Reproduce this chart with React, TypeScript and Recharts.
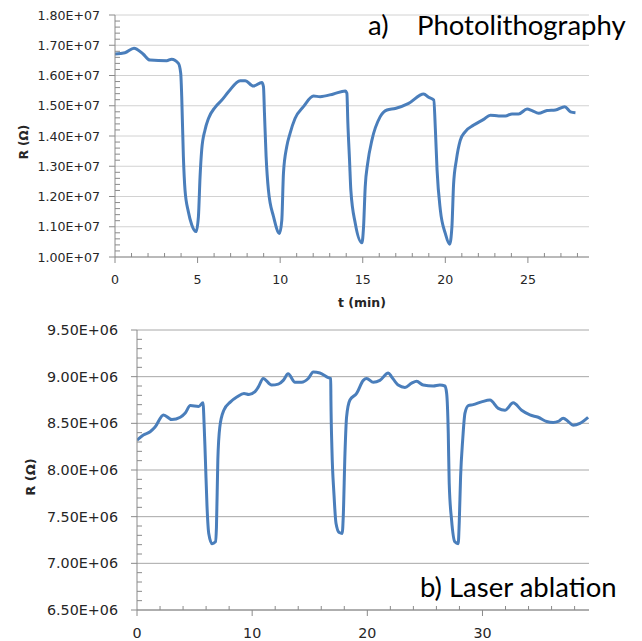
import React from 'react';
import { LineChart, Line, XAxis, YAxis, ReferenceLine } from 'recharts';

// ---------- a) Photolithography ----------
const topTime = [
  0.0, 0.6, 1.15, 1.7, 2.12, 3.13, 3.43, 3.84, 3.98, 4.04, 4.14, 4.24, 4.44, 4.65, 4.91,
  5.05, 5.15, 5.25, 5.45, 5.66, 6.06, 6.47, 6.87, 7.58, 7.88, 8.38, 8.89, 8.99, 9.05, 9.15,
  9.29, 9.6, 9.96, 10.1, 10.2, 10.4, 10.6, 10.9, 11.41, 12.02, 12.42, 13.23, 13.94, 14.04,
  14.1, 14.2, 14.28, 14.55, 14.95, 15.05, 15.15, 15.3, 15.56, 16.06, 16.47, 16.97, 17.78,
  18.69, 18.99, 19.3, 19.4, 19.5, 19.7, 20.0, 20.26, 20.4, 20.5, 20.67, 20.9, 21.2, 21.72,
  22.32, 22.73, 23.23, 23.64, 24.04, 24.44, 24.95, 25.25, 25.65, 26.16, 26.67, 27.23, 27.58,
  27.88,
];
const topResistance = [
  16.71e6, 16.75e6, 16.9e6, 16.71e6, 16.51e6, 16.49e6, 16.54e6, 16.4e6, 16.07e6, 15.3e6,
  13.32e6, 12.21e6, 11.5e6, 11.06e6, 10.84e6, 11.33e6, 12.65e6, 13.54e6, 14.2e6, 14.58e6,
  14.95e6, 15.19e6, 15.46e6, 15.83e6, 15.83e6, 15.65e6, 15.77e6, 15.63e6, 14.75e6, 13.32e6,
  12.21e6, 11.33e6, 10.78e6, 11.22e6, 12.77e6, 13.65e6, 14.09e6, 14.58e6, 14.97e6, 15.32e6,
  15.3e6, 15.39e6, 15.49e6, 15.41e6, 14.42e6, 13.21e6, 12.21e6, 11.11e6, 10.47e6, 11.0e6,
  12.32e6, 13.1e6, 13.87e6, 14.64e6, 14.86e6, 14.91e6, 15.08e6, 15.39e6, 15.28e6, 15.19e6,
  14.2e6, 12.88e6, 11.55e6, 10.78e6, 10.42e6, 11.0e6, 12.4e6, 13.21e6, 13.85e6, 14.14e6,
  14.36e6, 14.55e6, 14.69e6, 14.66e6, 14.66e6, 14.73e6, 14.73e6, 14.89e6, 14.84e6, 14.75e6,
  14.84e6, 14.86e6, 14.97e6, 14.8e6, 14.77e6,
];
const topXMajor = [0, 5, 10, 15, 20, 25];
const topYMajor = [1.0e7, 1.1e7, 1.2e7, 1.3e7, 1.4e7, 1.5e7, 1.6e7, 1.7e7, 1.8e7];
const topXMax = 28.7;

// ---------- b) Laser ablation ----------
const botTime = [
  0, 0.55, 1.14, 1.57, 2.3, 3.03, 3.76, 4.19, 4.63, 5.35, 5.74, 5.79, 5.94, 6.08, 6.23,
  6.52, 6.81, 6.9, 7.02, 7.19, 7.54, 8.12, 8.7, 9.29, 9.72, 10.25, 10.54, 10.96, 11.69,
  12.27, 12.7, 13.12, 13.72, 14.29, 14.87, 15.31, 15.88, 16.61, 16.82, 16.84, 16.93, 17.1,
  17.28, 17.56, 17.82, 17.91, 18.06, 18.2, 18.49, 19.07, 19.65, 19.94, 20.52, 21.09, 21.82,
  22.1, 22.68, 23.27, 23.85, 24.28, 24.85, 25.72, 26.3, 26.74, 26.89, 27.03, 27.11, 27.32,
  27.6, 27.89, 27.98, 28.1, 28.28, 28.48, 28.77, 29.19, 29.92, 30.65, 31.37, 31.95, 32.67,
  33.4, 34.12, 34.84, 35.57, 36.14, 36.58, 37.01, 37.44, 37.87, 38.46, 39.17,
];
const botResistance = [
  8.32e6, 8.375e6, 8.41e6, 8.46e6, 8.59e6, 8.54e6, 8.565e6, 8.61e6, 8.69e6, 8.68e6, 8.72e6,
  8.61e6, 8.11e6, 7.61e6, 7.32e6, 7.21e6, 7.23e6, 7.39e6, 8.11e6, 8.46e6, 8.64e6, 8.73e6,
  8.785e6, 8.82e6, 8.81e6, 8.84e6, 8.89e6, 8.98e6, 8.91e6, 8.92e6, 8.96e6, 9.03e6, 8.94e6,
  8.94e6, 8.98e6, 9.05e6, 9.04e6, 8.99e6, 8.98e6, 8.75e6, 8.21e6, 7.75e6, 7.43e6, 7.33e6,
  7.32e6, 7.5e6, 8.18e6, 8.57e6, 8.75e6, 8.82e6, 8.96e6, 8.98e6, 8.94e6, 8.96e6, 9.04e6,
  9.0e6, 8.91e6, 8.885e6, 8.93e6, 8.95e6, 8.91e6, 8.9e6, 8.91e6, 8.9e6, 8.82e6, 8.39e6,
  7.86e6, 7.46e6, 7.23e6, 7.21e6, 7.43e6, 7.93e6, 8.32e6, 8.61e6, 8.69e6, 8.7e6, 8.73e6,
  8.75e6, 8.66e6, 8.64e6, 8.72e6, 8.64e6, 8.59e6, 8.565e6, 8.52e6, 8.51e6, 8.52e6, 8.555e6,
  8.52e6, 8.48e6, 8.5e6, 8.565e6,
];
const botXMajor = [0, 10, 20, 30];
const botYMajor = [6.5e6, 7.0e6, 7.5e6, 8.0e6, 8.5e6, 9.0e6, 9.5e6];
const botXMax = 39.25;

// ---------- styling ----------
const LINE_COLOR = '#4a7ebb';
const AXIS_COLOR = '#8a8a8a';
const TOP_GRID = '#d2d2d2';
const BOT_GRID = '#a8a8a8';
const TEXT_COLOR = '#262626';
const TITLE_FONT = 'Lato, "Open Sans", sans-serif';
const TICK_FONT = '"DejaVu Sans", sans-serif';

const topData = topTime.map((t, i) => ({ t, r: topResistance[i] }));
const botData = botTime.map((t, i) => ({ t, r: botResistance[i] }));

function withMinor(start: number, end: number, step: number): number[] {
  const out: number[] = [];
  const n = Math.round((end - start) / step);
  for (let i = 0; i <= n; i++) out.push(+(start + i * step).toPrecision(10));
  return out;
}

function sci(v: number): string {
  const [m, e] = v.toExponential(2).split('e');
  const sign = e[0] === '-' ? '-' : '+';
  const digits = e.replace(/[+-]/, '').padStart(2, '0');
  return `${m}E${sign}${digits}`;
}

const isIn = (arr: number[], v: number) => arr.some((m) => Math.abs(m - v) < Math.abs(m) * 1e-6 + 1e-6);

function makeYTick(majors: number[], fontSize: number, gap: number) {
  return (props: any) => {
    const { x, y, payload } = props;
    if (isIn(majors, payload.value)) {
      return (
        <g>
          <line x1={x - 6} x2={x} y1={y} y2={y} stroke={AXIS_COLOR} />
          <text x={x - gap} y={y} dy="0.36em" textAnchor="end" fontSize={fontSize} fill={TEXT_COLOR} fontFamily={TICK_FONT}>
            {sci(payload.value)}
          </text>
        </g>
      );
    }
    return <line x1={x} x2={x + 5} y1={y} y2={y} stroke={AXIS_COLOR} />;
  };
}

function makeXTick(majors: number[], fontSize: number, offset: number) {
  return (props: any) => {
    const { x, y, payload } = props;
    if (isIn(majors, payload.value)) {
      return (
        <g>
          <line x1={x} x2={x} y1={y} y2={y + 6} stroke={AXIS_COLOR} />
          <text x={x} y={y + offset} dy="0.36em" textAnchor="middle" fontSize={fontSize} fill={TEXT_COLOR} fontFamily={TICK_FONT}>
            {payload.value}
          </text>
        </g>
      );
    }
    return <line x1={x} x2={x} y1={y - 4} y2={y} stroke={AXIS_COLOR} />;
  };
}

export default function App() {
  return (
    <div style={{ position: 'absolute', left: 0, top: 0, width: 642, height: 641, background: '#fff', overflow: 'hidden' }}>
      <div style={{ position: 'absolute', left: 0, top: 0 }}>
        <LineChart width={642} height={320} data={topData} margin={{ top: 15, right: 53, bottom: 33, left: 0 }}>
          {topYMajor.map((v) => (
            <ReferenceLine key={v} y={v} stroke={TOP_GRID} strokeWidth={1} />
          ))}
          <XAxis
            dataKey="t"
            type="number"
            domain={[0, topXMax]}
            allowDataOverflow
            ticks={withMinor(0, 28, 1)}
            interval={0}
            tickSize={0}
            tickMargin={0}
            tickLine={false}
            axisLine={{ stroke: AXIS_COLOR }}
            tick={makeXTick(topXMajor, 12.6, 22)}
            height={30}
          />
          <YAxis
            type="number"
            domain={[1.0e7, 1.8e7]}
            allowDataOverflow
            ticks={withMinor(1.0e7, 1.8e7, 2e5)}
            interval={0}
            tickSize={0}
            tickMargin={0}
            tickLine={false}
            axisLine={{ stroke: AXIS_COLOR }}
            tick={makeYTick(topYMajor, 12.6, 15)}
            width={115}
          />
          <Line dataKey="r" type="monotone" stroke={LINE_COLOR} strokeWidth={3} dot={false} isAnimationActive={false} strokeLinejoin="round" />
        </LineChart>
      </div>
      <div style={{ position: 'absolute', left: 0, top: 310 }}>
        <LineChart width={642} height={331} data={botData} margin={{ top: 20, right: 53, bottom: 0, left: 0 }}>
          {botYMajor.map((v) => (
            <ReferenceLine key={v} y={v} stroke={BOT_GRID} strokeWidth={1} />
          ))}
          <XAxis
            dataKey="t"
            type="number"
            domain={[0, botXMax]}
            allowDataOverflow
            ticks={withMinor(0, 38, 2)}
            interval={0}
            tickSize={0}
            tickMargin={0}
            tickLine={false}
            axisLine={{ stroke: AXIS_COLOR }}
            tick={makeXTick(botXMajor, 14.3, 23)}
            height={31}
          />
          <YAxis
            type="number"
            domain={[6.5e6, 9.5e6]}
            allowDataOverflow
            ticks={withMinor(6.5e6, 9.5e6, 1e5)}
            interval={0}
            tickSize={0}
            tickMargin={0}
            tickLine={false}
            axisLine={{ stroke: AXIS_COLOR }}
            tick={makeYTick(botYMajor, 14.3, 19)}
            width={137}
          />
          <Line dataKey="r" type="monotone" stroke={LINE_COLOR} strokeWidth={3} dot={false} isAnimationActive={false} strokeLinejoin="round" />
        </LineChart>
      </div>
      <svg width={642} height={641} style={{ position: 'absolute', left: 0, top: 0, pointerEvents: 'none' }}>
        <g fontFamily={TITLE_FONT} fill="#000">
          <text x={368} y={35} fontSize={27.5}>a)</text>
          <text x={417} y={35} fontSize={27.5}>Photolithography</text>
          <text x={420} y={597} fontSize={27.5}>b) Laser ablation</text>
        </g>
        <g fontFamily={TICK_FONT} fill={TEXT_COLOR} fontWeight="bold">
          <text x={24} y={142} fontSize={12} textAnchor="middle" dy="0.36em" transform="rotate(-90 24 142)">R (Ω)</text>
          <text x={362} y={302} fontSize={12.5} textAnchor="middle" dy="0.36em">t (min)</text>
          <text x={30} y={477} fontSize={13} textAnchor="middle" dy="0.36em" transform="rotate(-90 30 477)">R (Ω)</text>
        </g>
      </svg>
    </div>
  );
}
